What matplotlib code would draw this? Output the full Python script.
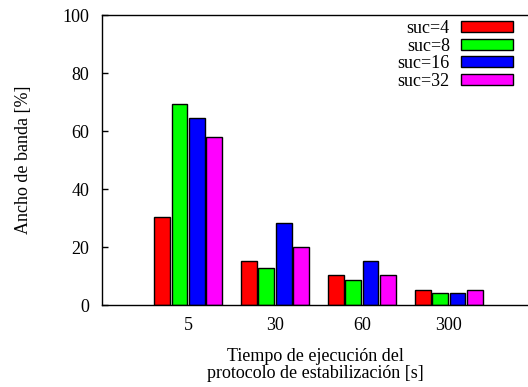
import matplotlib
matplotlib.use("Agg")
import matplotlib.pyplot as plt
import numpy as np

categories = ["5", "30", "60", "300"]
series_names = ["suc=4", "suc=8", "suc=16", "suc=32"]
suc4 = [30.4, 15.1, 10.2, 5.2]
suc8 = [69.2, 12.6, 8.5, 4.0]
suc16 = [64.4, 28.2, 15.1, 4.0]
suc32 = [57.8, 20.0, 10.2, 5.1]
colors = ["#ff0000", "#00ff00", "#0000ff", "#ff00ff"]
yticks = [0, 20, 40, 60, 80, 100]

plt.rcParams['font.family'] = ['Liberation Serif', 'DejaVu Serif']
plt.rcParams['font.size'] = 13

fig = plt.figure(figsize=(5.28, 3.87), dpi=100)
ax = fig.add_axes([102/528, 1-305/387, 1-102/528, (305-15)/387])

x = np.arange(len(categories))
width = 0.18
offsets = [-0.3, -0.1, 0.1, 0.3]
data = [suc4, suc8, suc16, suc32]
handles = []
for vals, off, c, name in zip(data, offsets, colors, series_names):
    h = ax.bar(x + off, vals, width, color=c, edgecolor='black', linewidth=1.0, label=name)
    handles.append(h)

ax.set_xlim(-0.99, 3.91)
ax.set_ylim(0, 100)
ax.set_yticks(yticks)
ax.set_xticks(x)
ax.set_xticklabels(categories)
ax.tick_params(axis='y', direction='in', length=4, pad=9, width=1, labelsize=13)
ax.tick_params(axis='x', length=0, pad=9, labelsize=13)
ax.spines['right'].set_visible(False)
for s in ['left', 'top', 'bottom']:
    ax.spines[s].set_linewidth(1.0)

ax.set_ylabel("Ancho de banda [%]", labelpad=22)
ax.set_xlabel("Tiempo de ejecución del\nprotocolo de estabilización [s]", labelpad=10, linespacing=0.95)

leg = ax.legend(handles=handles, labels=series_names, loc='upper right',
                bbox_to_anchor=(513/528, 1-20/387), bbox_transform=fig.transFigure,
                frameon=False, markerfirst=False, handlelength=2.9, handleheight=0.55,
                labelspacing=0.03, handletextpad=0.6, borderaxespad=0, borderpad=0,
                fontsize=13)

fig.savefig("out.png", dpi=100)
